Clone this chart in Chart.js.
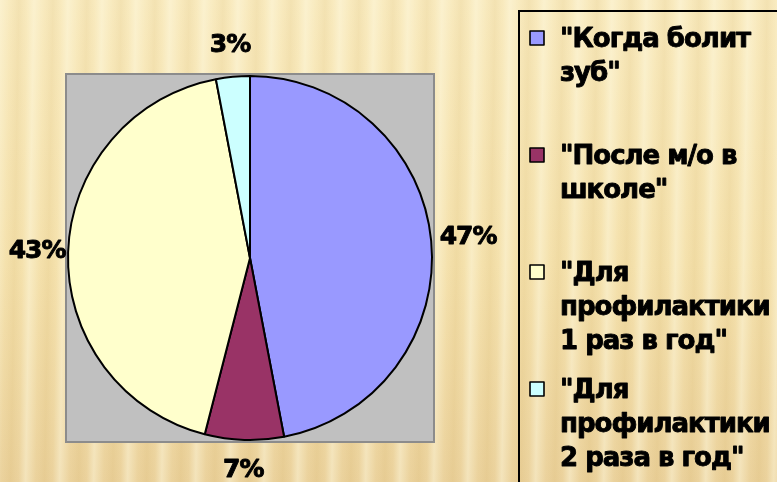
<!DOCTYPE html>
<html>
<head>
<meta charset="utf-8">
<script src="https://cdn.jsdelivr.net/npm/chart.js@4.4.1/dist/chart.umd.min.js"></script>
<style>
  html, body { margin: 0; padding: 0; }
  body {
    width: 777px; height: 482px; overflow: hidden;
    background:
      repeating-linear-gradient(91deg,
        rgba(255, 251, 228, 0.45) 0px,
        rgba(255, 251, 228, 0.05) 10px,
        rgba(200, 165, 90, 0.10) 19px,
        rgba(255, 251, 228, 0.05) 27px,
        rgba(255, 251, 228, 0.45) 34px),
      linear-gradient(180deg, #F8E9BC 0%, #F4E0AA 55%, #EAD099 100%);
  }
  #wrap { position: relative; width: 777px; height: 482px; }
</style>
</head>
<body>
<div id="wrap"><canvas id="chart"></canvas></div>
<script>
// données
const categories = [
  ['"Когда болит', 'зуб"'],
  ['"После м/о в', 'школе"'],
  ['"Для', 'профилактики', '1 раз в год"'],
  ['"Для', 'профилактики', '2 раза в год"']
];
const values = [47, 7, 43, 3];
const percentLabels = ['47%', '7%', '43%', '3%'];
const colors = ['#9999FF', '#993366', '#FFFFCC', '#CCFFFF'];

// texte gras un peu épaissi (comme sur la diapo)
function heavyText(ctx, t, x, y) {
  ctx.strokeText(t, x, y);
  ctx.fillText(t, x, y);
}

// fond gris de la zone du graphique
const plotBg = {
  id: 'plotBg',
  beforeDraw(chart) {
    const { ctx, chartArea: a } = chart;
    ctx.save();
    ctx.fillStyle = '#C0C0C0';
    ctx.fillRect(a.left - 1, a.top - 1, a.right - a.left + 2, a.bottom - a.top + 2);
    ctx.strokeStyle = '#8C8C8C';
    ctx.lineWidth = 2;
    ctx.strokeRect(a.left - 1, a.top - 1, a.right - a.left + 2, a.bottom - a.top + 2);
    ctx.restore();
  }
};

// pourcentages à l'extérieur des parts
const outsideLabels = {
  id: 'outsideLabels',
  afterDatasetsDraw(chart) {
    const { ctx } = chart;
    const arcs = chart.getDatasetMeta(0).data;
    ctx.save();
    ctx.font = 'bold 25px "DejaVu Sans"';
    ctx.letterSpacing = '-1px';
    ctx.fillStyle = '#000';
    ctx.strokeStyle = '#000';
    ctx.lineWidth = 0.9;
    ctx.lineJoin = 'round';
    ctx.textAlign = 'center';
    ctx.textBaseline = 'middle';
    arcs.forEach((arc, i) => {
      const mid = (arc.startAngle + arc.endAngle) / 2;
      const r = arc.outerRadius + 31;
      const x = arc.x + Math.cos(mid) * r + (Math.cos(mid) > 0.5 ? 6 : 0);
      heavyText(ctx, percentLabels[i], x, arc.y + Math.sin(mid) * r);
    });
    ctx.restore();
  }
};

// légende à droite, texte sur plusieurs lignes
const sideLegend = {
  id: 'sideLegend',
  afterDraw(chart) {
    const { ctx } = chart;
    const boxX = 519, boxY = 11;
    ctx.save();
    ctx.strokeStyle = '#000';
    ctx.lineWidth = 2;
    ctx.beginPath();
    ctx.moveTo(boxX, chart.height + 2);
    ctx.lineTo(boxX, boxY);
    ctx.lineTo(chart.width + 2, boxY);
    ctx.stroke();

    ctx.font = 'bold 26px "DejaVu Sans"';
    ctx.letterSpacing = '-1px';
    ctx.textAlign = 'left';
    ctx.textBaseline = 'alphabetic';
    ctx.lineJoin = 'round';
    const firstBase = 47, step = 117, lineH = 34;
    categories.forEach((lines, i) => {
      const base = firstBase + i * step;
      ctx.fillStyle = colors[i];
      ctx.fillRect(530, base - 16, 14, 14);
      ctx.lineWidth = 1.6;
      ctx.strokeStyle = '#000';
      ctx.strokeRect(530, base - 16, 14, 14);
      ctx.fillStyle = '#000';
      ctx.lineWidth = 0.9;
      lines.forEach((t, j) => heavyText(ctx, t, 560, base + j * lineH));
    });
    ctx.restore();
  }
};

new Chart(document.getElementById('chart'), {
  type: 'pie',
  data: {
    labels: categories.map(l => l.join(' ')),
    datasets: [{
      data: values,
      backgroundColor: colors,
      borderColor: '#000',
      borderWidth: 2
    }]
  },
  options: {
    responsive: true,
    maintainAspectRatio: false,
    animation: false,
    layout: { padding: { left: 67, top: 75, right: 344, bottom: 41 } },
    plugins: {
      legend: { display: false },
      tooltip: { enabled: false }
    }
  },
  plugins: [plotBg, outsideLabels, sideLegend]
});
</script>
</body>
</html>
